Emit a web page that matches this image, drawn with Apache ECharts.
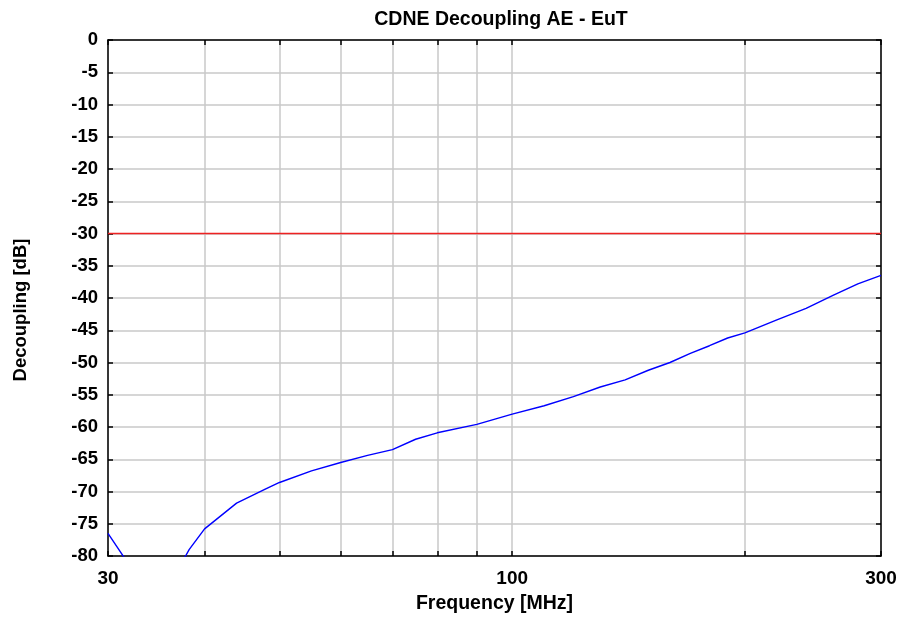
<!DOCTYPE html>
<html>
<head>
<meta charset="utf-8">
<script src="https://cdn.jsdelivr.net/npm/echarts@6/dist/echarts.min.js"></script>
<style>html,body{margin:0;padding:0;background:#fff}#c{width:900px;height:620px}</style>
</head>
<body>
<div id="c"></div>
<script>
var freqMHz = [30, 32, 34, 36, 37.8, 38.2, 40, 44, 48, 50, 55, 60, 65, 70, 75, 80, 90, 100, 110, 120, 130, 140, 150, 160, 170, 180, 190, 200, 220, 240, 260, 280, 300];
var decouplingDb = [-76.5, -81.5, -84, -82.5, -80, -79, -75.8, -71.8, -69.6, -68.6, -66.8, -65.5, -64.4, -63.5, -61.9, -60.9, -59.6, -58.0, -56.7, -55.3, -53.8, -52.7, -51.2, -50.0, -48.6, -47.4, -46.2, -45.4, -43.4, -41.6, -39.6, -37.8, -36.5];
var limitFreq = [30, 300];
var limitDb = [-30, -30];
var xTickValues = [30, 40, 50, 60, 70, 80, 90, 100, 200, 300];
var xLabelValues = [30, 100, 300];

var FONT = '"Liberation Sans", Arial, sans-serif';
function zip(a, b) { return a.map(function (v, i) { return [v, b[i]]; }); }

var chart = echarts.init(document.getElementById('c'), null, {renderer: 'canvas'});
var axisLineStyle = {color: '#000', width: 1.5};
chart.setOption({
  animation: false,
  backgroundColor: '#fff',
  title: {
    text: 'CDNE Decoupling AE - EuT',
    left: 496, top: 5, textAlign: 'center',
    textStyle: {fontFamily: FONT, fontWeight: 'bold', fontSize: 19.5, color: '#000'}
  },
  grid: {left: 108, right: 19, top: 40, bottom: 64, containLabel: false},
  xAxis: [{
    type: 'log', logBase: 10, min: 30, max: 300,
    name: 'Frequency [MHz]', nameLocation: 'middle', nameGap: 38,
    nameTextStyle: {fontFamily: FONT, fontWeight: 'bold', fontSize: 19.5, color: '#000'},
    axisLine: {show: true, onZero: false, lineStyle: axisLineStyle},
    axisTick: {show: true, inside: true, length: 5, customValues: xTickValues, lineStyle: {color: '#000', width: 1.5}},
    axisLabel: {customValues: xLabelValues, margin: 13, fontFamily: FONT, fontWeight: 'bold', fontSize: 19, color: '#000', showMinLabel: true, showMaxLabel: true},
    splitLine: {show: true, lineStyle: {color: '#c8c8c8', width: 1.5}},
    minorTick: {show: false}, minorSplitLine: {show: false}
  }, {
    type: 'log', logBase: 10, min: 30, max: 300, position: 'top',
    axisLine: {show: true, onZero: false, lineStyle: axisLineStyle},
    axisTick: {show: true, inside: true, length: 5, customValues: xTickValues, lineStyle: {color: '#000', width: 1.5}},
    axisLabel: {show: false},
    splitLine: {show: false}
  }],
  yAxis: [{
    type: 'value', min: -80, max: 0, interval: 5,
    name: 'Decoupling [dB]', nameLocation: 'middle', nameGap: 78, nameRotate: 90,
    nameTextStyle: {fontFamily: FONT, fontWeight: 'bold', fontSize: 18.5, color: '#000', padding: [0, 24, 0, 0]},
    axisLine: {show: true, onZero: false, lineStyle: axisLineStyle},
    axisTick: {show: true, inside: true, length: 5, lineStyle: {color: '#000', width: 1.5}},
    axisLabel: {margin: 10, fontFamily: FONT, fontWeight: 'bold', fontSize: 18.5, color: '#000'},
    splitLine: {show: true, lineStyle: {color: '#c8c8c8', width: 1.5}}
  }, {
    type: 'value', min: -80, max: 0, interval: 5, position: 'right',
    axisLine: {show: true, onZero: false, lineStyle: axisLineStyle},
    axisTick: {show: true, inside: true, length: 5, lineStyle: {color: '#000', width: 1.5}},
    axisLabel: {show: false},
    splitLine: {show: false}
  }],
  series: [{
    type: 'line', name: 'Limit', data: zip(limitFreq, limitDb),
    showSymbol: false, symbol: 'none', clip: true,
    lineStyle: {color: '#ee2222', width: 1.6}
  }, {
    type: 'line', name: 'Decoupling', data: zip(freqMHz, decouplingDb),
    showSymbol: false, symbol: 'none', clip: true,
    lineStyle: {color: '#0000ff', width: 1.4}
  }]
});
</script>
</body>
</html>
